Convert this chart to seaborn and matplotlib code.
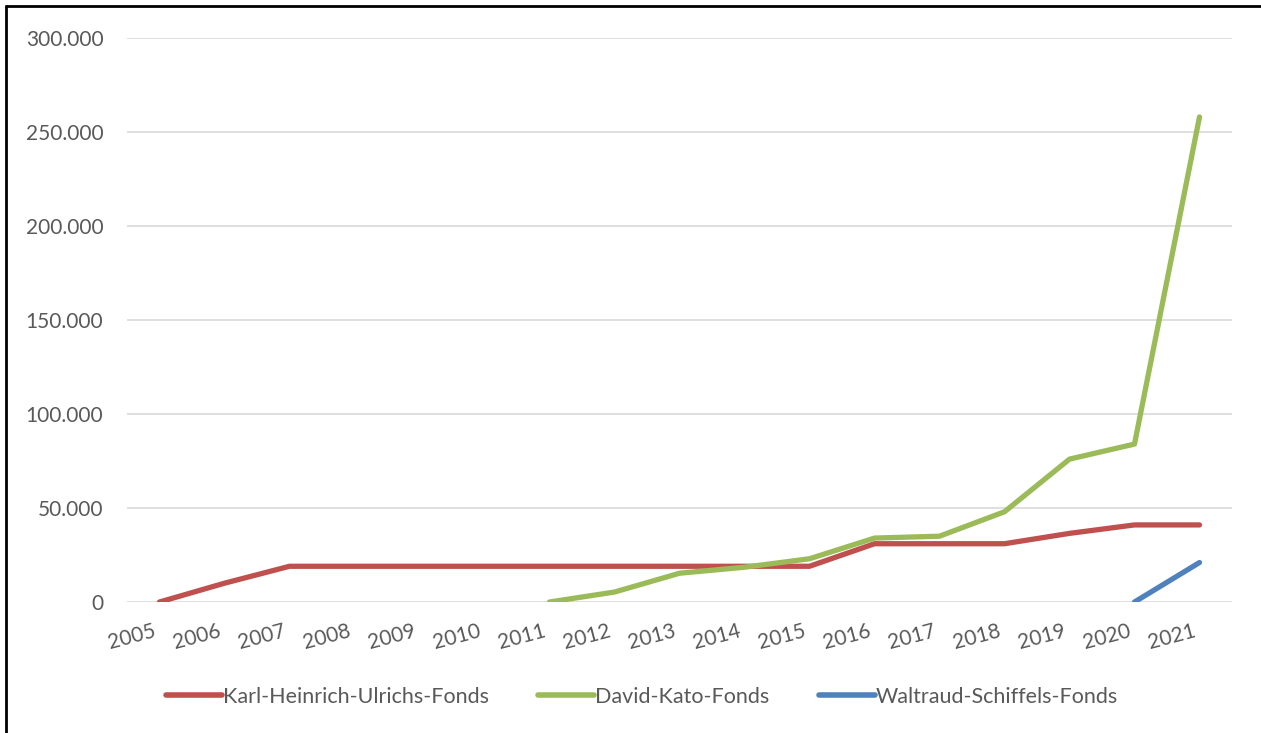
import numpy as np
import pandas as pd
import matplotlib
matplotlib.use("Agg")
import matplotlib.pyplot as plt
import matplotlib.transforms as mtransforms
from matplotlib.lines import Line2D
import seaborn as sns

years = [str(y) for y in range(2005, 2022)]
ulrichs = [0, 10000, 19000, 19000, 19000, 19000, 19000, 19000, 19000, 19000, 19000,
           31000, 31000, 31000, 36500, 41000, 41000]
kato = [np.nan] * 6 + [0, 5300, 15300, 18500, 23000, 34000, 35000, 48000, 76000, 84000, 258000]
schiffels = [np.nan] * 15 + [0, 21000]
series_names = ["Karl-Heinrich-Ulrichs-Fonds", "David-Kato-Fonds", "Waltraud-Schiffels-Fonds"]
colors = ["#C0504D", "#9BBB59", "#4F81BD"]
y_ticks = [0, 50000, 100000, 150000, 200000, 250000, 300000]

rows = []
for name, vals in zip(series_names, [ulrichs, kato, schiffels]):
    for i, v in enumerate(vals):
        if not np.isnan(v):
            rows.append({"idx": i, "value": v, "Fonds": name})
df = pd.DataFrame(rows)

sns.set_theme(style="white")
plt.rcParams["font.family"] = ["Lato", "DejaVu Sans"]

fig = plt.figure(figsize=(12.61, 7.33), dpi=100)
ax = fig.add_axes([127 / 1261, 1 - 602 / 733, (1232 - 127) / 1261, (602 - 38) / 733])

sns.lineplot(data=df, x="idx", y="value", hue="Fonds", hue_order=series_names,
             palette=colors, linewidth=3.8, ax=ax, legend=False,
             solid_capstyle="round", solid_joinstyle="round")

ax.set_xlim(-0.5, len(years) - 0.5)
ax.set_ylim(0, 300000)
ax.set_yticks(y_ticks)
ax.set_yticklabels([f"{v:,.0f}".replace(",", ".") for v in y_ticks])
ax.set_xticks(range(len(years)))
ax.set_xticklabels(years, rotation=15, ha="right", rotation_mode="anchor")
ax.tick_params(axis="y", length=0, pad=17, labelsize=15, labelcolor="#595959")
ax.tick_params(axis="x", length=0, pad=14, labelsize=15, labelcolor="#595959")
offset = mtransforms.ScaledTranslation(-7 / 100, 0, fig.dpi_scale_trans)
for lbl in ax.get_xticklabels():
    lbl.set_transform(lbl.get_transform() + offset)
ax.set_xlabel("")
ax.set_ylabel("")
ax.yaxis.grid(True, color="#D9D9D9", linewidth=1.2)
ax.xaxis.grid(False)
for s in ax.spines.values():
    s.set_visible(False)
ax.set_axisbelow(True)

handles = [Line2D([0], [0], color=c, linewidth=4, solid_capstyle="round") for c in colors]
leg = fig.legend(handles, series_names, loc="center", bbox_to_anchor=(642 / 1261, 1 - 697 / 733),
                 ncol=3, frameon=False, fontsize=15.5, handlelength=2.6, handletextpad=0.05,
                 columnspacing=2.3)
for t in leg.get_texts():
    t.set_color("#595959")

# outer frame (top and left)
fig.add_artist(Line2D([6 / 1261, 6 / 1261], [0, 1 - 6 / 733], color="black", linewidth=2,
                      transform=fig.transFigure))
fig.add_artist(Line2D([6 / 1261, 1], [1 - 6 / 733, 1 - 6 / 733], color="black", linewidth=2,
                      transform=fig.transFigure))

fig.savefig("out.png", dpi=100, facecolor="white")
